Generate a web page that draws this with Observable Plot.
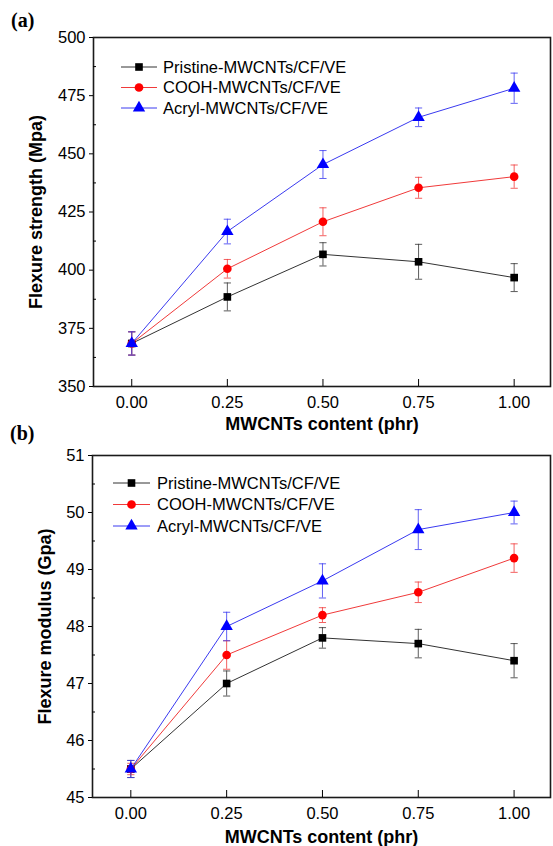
<!DOCTYPE html>
<html>
<head>
<meta charset="utf-8">
<script src="https://cdn.jsdelivr.net/npm/d3@7"></script>
<script src="https://cdn.jsdelivr.net/npm/@observablehq/plot@0.6"></script>
<style>
  html, body { margin: 0; padding: 0; background: #fff; }
  #wrap { position: relative; width: 553px; height: 846px; background: #fff; overflow: hidden; }
  .panel { position: absolute; left: 0; width: 553px; }
  .panel svg { overflow: visible; }
  .tag { position: absolute; font-family: "Liberation Serif", "DejaVu Serif", serif; font-weight: bold; font-size: 20px; color: #000; }
  g[aria-label="y-axis label"] text, g[aria-label="x-axis label"] text,
  g[aria-label="y-axis label"], g[aria-label="x-axis label"] { font-weight: bold; font-size: 18px; }
  .legend { position: absolute; left: 0; top: 0; }
</style>
</head>
<body>
<div id="wrap"></div>
<script>
// ---------------- data ----------------
const content = [0, 0.25, 0.5, 0.75, 1.0];
const series = ["Pristine-MWCNTs/CF/VE", "COOH-MWCNTs/CF/VE", "Acryl-MWCNTs/CF/VE"];
const seriesColors = ["#000000", "#ff0000", "#0000ff"];
const lineColors = ["#333333", "#f03a3a", "#3a3af0"];
const seriesSymbols = ["square", "circle", "triangle"];

// (a) flexure strength (MPa) and error
const pristineStrength = [368.5, 388.5, 406.8, 403.6, 396.8];
const pristineStrengthErr = [5, 6, 5, 7.5, 6];
const coohStrength = [368.5, 400.6, 420.8, 435.4, 440.2];
const coohStrengthErr = [5, 4, 6, 4.5, 5];
const acrylStrength = [368.5, 416.6, 445.4, 465.7, 478.2];
const acrylStrengthErr = [5, 5.3, 6, 4, 6.5];

// (b) flexure modulus (GPa) and error
const pristineModulus = [45.5, 47.0, 47.8, 47.7, 47.4];
const pristineModulusErr = [0.15, 0.22, 0.18, 0.25, 0.3];
const coohModulus = [45.5, 47.5, 48.2, 48.6, 49.2];
const coohModulusErr = [0.1, 0.25, 0.13, 0.18, 0.25];
const acrylModulus = [45.5, 48.0, 48.8, 49.7, 50.0];
const acrylModulusErr = [0.15, 0.25, 0.3, 0.35, 0.2];

const xTicks = [0, 0.25, 0.5, 0.75, 1.0];
const strengthTicks = [350, 375, 400, 425, 450, 475, 500];
const strengthMinor = [362.5, 387.5, 412.5, 437.5, 462.5, 487.5];
const modulusTicks = [45, 46, 47, 48, 49, 50, 51];
const modulusMinor = [45.5, 46.5, 47.5, 48.5, 49.5, 50.5];

// ---------------- helpers ----------------
function buildRows(valueSets, errSets) {
  return series.flatMap((s, i) => content.map((x, j) => ({
    series: s, x, y: valueSets[i][j], e: errSets[i][j]
  })));
}

const capSymbol = {
  draw(context, size) {
    const w = Math.sqrt(size / Math.PI);
    context.moveTo(-w, 0);
    context.lineTo(w, 0);
  }
};

function makePanel(opts) {
  const rows = buildRows(opts.values, opts.errs);
  const font = "Liberation Sans, Arial, sans-serif";
  const colorScale = { domain: series, range: seriesColors };
  const marks = [];
  series.forEach((s, i) => {
    const d = rows.filter(r => r.series === s);
    marks.push(
      Plot.line(d, { x: "x", y: "y", stroke: lineColors[i], strokeWidth: 1 }),
      Plot.ruleX(d, { x: "x", y1: r => r.y - r.e, y2: r => r.y + r.e, stroke: lineColors[i], strokeWidth: 1, strokeOpacity: 0.8 }),
      Plot.dot(d, { x: "x", y: r => r.y + r.e, symbol: capSymbol, r: 3.6, stroke: lineColors[i], strokeWidth: 1, strokeOpacity: 0.8 }),
      Plot.dot(d, { x: "x", y: r => r.y - r.e, symbol: capSymbol, r: 3.6, stroke: lineColors[i], strokeWidth: 1, strokeOpacity: 0.8 }),
      Plot.dot(d, { x: "x", y: "y", symbol: seriesSymbols[i], r: i === 2 ? 4.6 : 4.3, fill: seriesColors[i], stroke: "none" })
    );
  });
  marks.push(
    Plot.frame({ stroke: "#1a1a1a", strokeWidth: 1.6 }),
    Plot.axisY({ ticks: opts.yTicks, tickSize: 4, tickPadding: 4, tickFormat: d => String(d), fontSize: 16.5,
      label: opts.yLabel, labelAnchor: "center", labelOffset: opts.yLabelOffset, labelArrow: "none" }),
    Plot.axisY({ ticks: opts.yMinor, tickSize: -3, tickFormat: () => "", label: null }),
    Plot.axisX({ ticks: xTicks, tickSize: -7, tickPadding: 17, tickFormat: d3.format(".2f"), fontSize: 16.5,
      label: "MWCNTs content (phr)", labelAnchor: "center", labelOffset: opts.xLabelOffset, labelArrow: "none" })
  );
  return Plot.plot({
    width: 553,
    height: opts.height,
    marginLeft: opts.marginLeft,
    marginRight: 3,
    marginTop: opts.marginTop,
    marginBottom: opts.marginBottom,
    style: { fontFamily: font, fontSize: "16.5px", background: "transparent", color: "#000" },
    x: { domain: [-0.1, 1.095] },
    y: { domain: opts.yDomain },
    color: colorScale,
    marks
  });
}

function makeLegend(left, top, rowGap, lineLen, textGap) {
  const svg = d3.create("svg")
    .attr("class", "legend")
    .attr("width", 553).attr("height", 120)
    .style("left", "0px").style("top", top + "px")
    .style("overflow", "visible");
  series.forEach((s, i) => {
    const y = 10 + i * rowGap;
    const g = svg.append("g");
    g.append("line").attr("x1", left).attr("x2", left + lineLen).attr("y1", y).attr("y2", y)
      .attr("stroke", lineColors[i]).attr("stroke-width", 1);
    const sym = [d3.symbolSquare, d3.symbolCircle, d3.symbolTriangle][i];
    const size = [58, 60, 66][i];
    g.append("path").attr("d", d3.symbol(sym, size)())
      .attr("transform", `translate(${left + lineLen / 2},${y})`)
      .attr("fill", seriesColors[i]);
    g.append("text").attr("x", left + lineLen + textGap).attr("y", y).attr("dy", "0.36em")
      .attr("font-family", "Liberation Sans, Arial, sans-serif").attr("font-size", 16.5)
      .attr("fill", "#000").text(s);
  });
  return svg.node();
}

// ---------------- layout ----------------
const wrap = document.getElementById("wrap");

const pa = document.createElement("div");
pa.className = "panel"; pa.style.top = "0px";
pa.appendChild(makePanel({
  values: [pristineStrength, coohStrength, acrylStrength],
  errs: [pristineStrengthErr, coohStrengthErr, acrylStrengthErr],
  yDomain: [350, 500], yTicks: strengthTicks, yMinor: strengthMinor,
  yLabel: "Flexure strength (Mpa)", yLabelOffset: 64, xLabelOffset: 43,
  height: 430, marginLeft: 93, marginTop: 37, marginBottom: 44
}));
wrap.appendChild(pa);

const pb = document.createElement("div");
pb.className = "panel"; pb.style.top = "416px";
pb.appendChild(makePanel({
  values: [pristineModulus, coohModulus, acrylModulus],
  errs: [pristineModulusErr, coohModulusErr, acrylModulusErr],
  yDomain: [45, 51], yTicks: modulusTicks, yMinor: modulusMinor,
  yLabel: "Flexure modulus (Gpa)", yLabelOffset: 54, xLabelOffset: 45,
  height: 430, marginLeft: 92, marginTop: 39, marginBottom: 49
}));
wrap.appendChild(pb);

wrap.appendChild(makeLegend(121, 57, 20.5, 36, 6));
wrap.appendChild(makeLegend(113, 473, 21.5, 37, 7));

const ta = document.createElement("div");
ta.className = "tag"; ta.textContent = "(a)"; ta.style.left = "11px"; ta.style.top = "9px";
wrap.appendChild(ta);
const tb = document.createElement("div");
tb.className = "tag"; tb.textContent = "(b)"; tb.style.left = "10px"; tb.style.top = "422px";
wrap.appendChild(tb);
</script>
</body>
</html>
